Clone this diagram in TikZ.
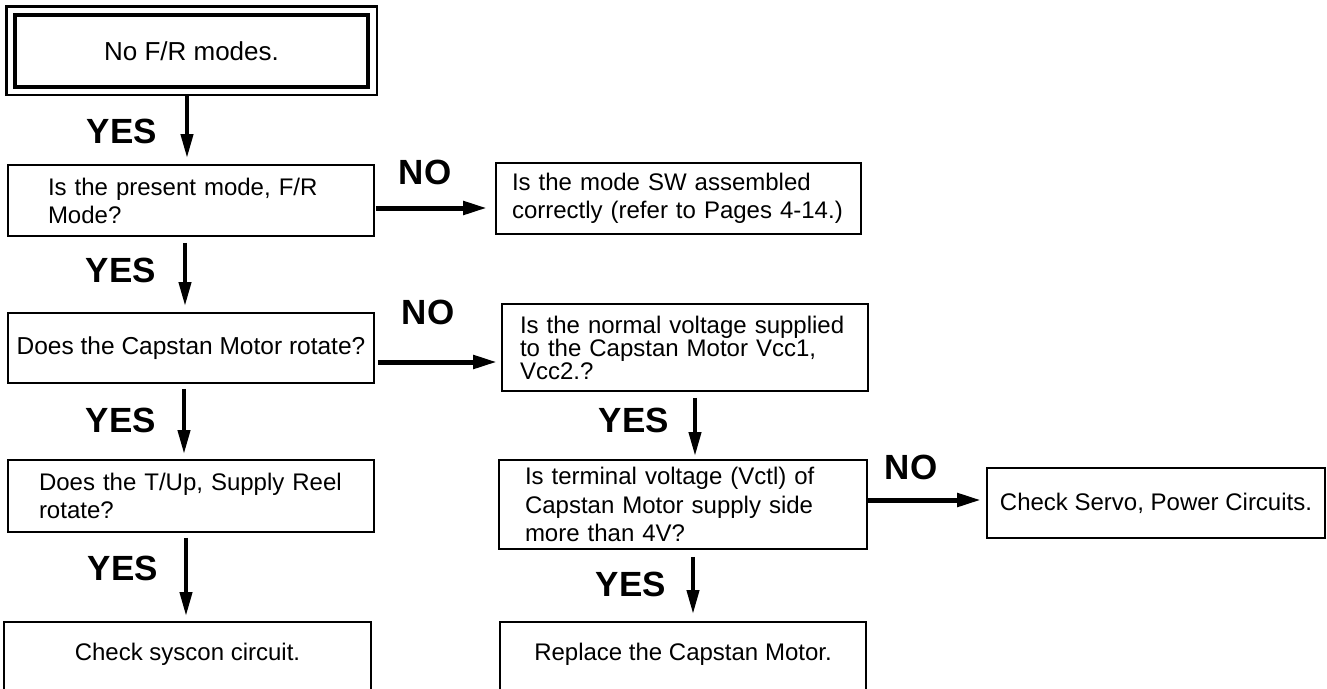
\documentclass[tikz,border=0pt]{standalone}
\usepackage{fontspec}
\setmainfont{Liberation Sans}
\usetikzlibrary{arrows.meta}
\begin{document}
\begin{tikzpicture}[x=1pt,y=1pt,
  box/.style={draw, line width=1.8pt, inner sep=0pt, font=\fontsize{24}{28}\selectfont},
  vflow/.style={line width=4pt, -{Triangle[length=24pt,width=12pt]}},
  hflow/.style={line width=5pt, -{Triangle[length=24pt,width=13pt]}},
  lab/.style={inner sep=0pt, font=\fontsize{35}{35}\selectfont\bfseries}
]
\useasboundingbox (0,0) rectangle (1327,-688);
\fill[white] (0,0) rectangle (1327,-688);
\clip (0,0) rectangle (1327,-688);

% left column
\node[box, line width=3.5pt, minimum width=353pt, minimum height=72pt,
      font=\fontsize{26}{30}\selectfont] (b1) at (191.5,-51) {No F/R modes.};
\draw[line width=2.5pt] ([xshift=-7pt,yshift=7pt]b1.north west) rectangle ([xshift=7pt,yshift=-6pt]b1.south east);

\node[box, minimum width=366pt, minimum height=71pt, text width=286pt, align=left]
  (b2) at (191,-200.5) {Is the present mode, F/R\\Mode?};
\node[box, minimum width=366pt, minimum height=70pt, font=\fontsize{24.5}{28}\selectfont]
  (b4) at (191,-348) {Does the Capstan Motor rotate?};
\node[box, minimum width=366pt, minimum height=72pt, text width=304pt, align=left]
  (b8) at (191,-496) {Does the T/Up, Supply Reel\\rotate?};
\node[box, minimum width=367pt, minimum height=80pt, text height=17pt, text depth=20pt]
  (b9) at (187.5,-662) {Check syscon circuit.};

% middle column
\node[box, minimum width=365pt, minimum height=71pt, text width=333pt, align=left]
  (b3) at (678.5,-198.5) {Is the mode SW assembled\\correctly (refer to Pages 4-14.)};
\node[box, minimum width=366pt, minimum height=87pt, text width=330pt, align=left,
      font=\fontsize{24}{20}\selectfont]
  (b5) at (685,-347.5) {Is the normal voltage supplied\\to the Capstan Motor Vcc1,\\Vcc2.?};
\node[box, minimum width=368pt, minimum height=89pt, text width=316pt, align=left,
      font=\fontsize{24}{28.5}\selectfont]
  (b6) at (683,-504.5) {Is terminal voltage (Vctl) of\\Capstan Motor supply side\\more than 4V?};
\node[box, minimum width=366pt, minimum height=80pt, text height=17pt, text depth=20pt]
  (b10) at (683,-662) {Replace the Capstan Motor.};

% right column
\node[box, minimum width=338pt, minimum height=70pt] (b7) at (1156,-503) {Check Servo, Power Circuits.};

% vertical YES connectors
\draw[vflow, shorten <=6pt, shorten >=6pt] ([xshift=-4.5pt]b1.south) -- ([xshift=-4.5pt]b1.south |- b2.north);
\draw[vflow, shorten <=6pt, shorten >=6pt] ([xshift=-6pt]b2.south) -- ([xshift=-6pt]b2.south |- b4.north);
\draw[vflow, shorten <=5pt, shorten >=5pt] ([xshift=-7pt]b4.south) -- ([xshift=-7pt]b4.south |- b8.north);
\draw[vflow, shorten <=5pt, shorten >=5pt] ([xshift=-5pt]b8.south) -- ([xshift=-5pt]b8.south |- b9.north);
\draw[vflow, shorten <=6pt, shorten >=3pt] ([xshift=10pt]b5.south) -- ([xshift=10pt]b5.south |- b6.north);
\draw[vflow, shorten <=7pt, shorten >=7pt] ([xshift=10pt]b6.south) -- ([xshift=10pt]b6.south |- b10.north);

% horizontal NO connectors
\draw[hflow, shorten <=1pt, shorten >=8pt] ([yshift=-7.5pt]b2.east) -- ([yshift=-7.5pt]b2.east -| b3.west);
\draw[hflow, shorten <=3pt, shorten >=4pt] ([yshift=-14pt]b4.east) -- ([yshift=-14pt]b4.east -| b5.west);
\draw[hflow, shorten <=0pt, shorten >=5pt] ([yshift=4.5pt]b6.east) -- ([yshift=4.5pt]b6.east -| b7.west);

% labels
\node[lab] (y1) at (122,-131) {YES};
\node[lab] (y2) at (121,-270) {YES};
\node[lab] (y3) at (121,-420) {YES};
\node[lab] (y4) at (123,-568) {YES};
\node[lab] (y5) at (634,-420) {YES};
\node[lab] (y6) at (631,-584) {YES};
\node[lab] (n1) at (425,-172) {NO};
\node[lab] (n2) at (428,-312) {NO};
\node[lab] (n3) at (911,-467) {NO};
\end{tikzpicture}
\end{document}
